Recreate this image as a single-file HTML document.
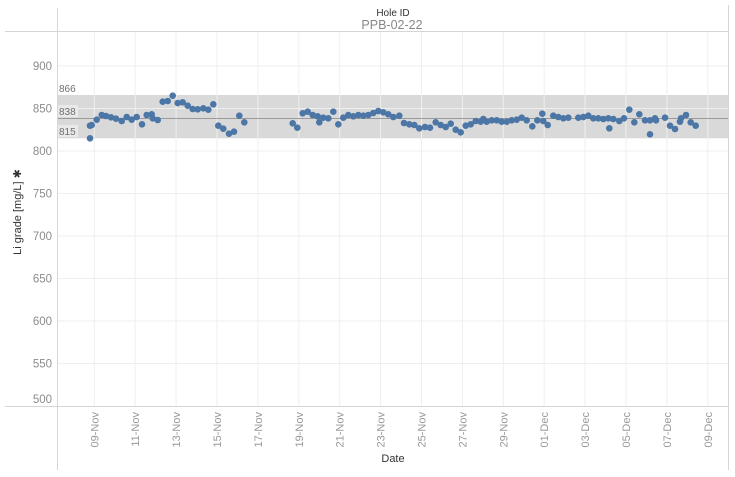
<!DOCTYPE html>
<html><head><meta charset="utf-8"><style>
html,body{margin:0;padding:0;background:#fff;}
svg{display:block;font-family:"Liberation Sans",sans-serif;}
</style></head><body>
<svg id="c" width="735" height="477" viewBox="0 0 735 477" xmlns="http://www.w3.org/2000/svg">
<rect width="735" height="477" fill="#fff"/>
<rect x="57" y="95" width="671" height="43.3" fill="#d9d9d9"/>
<g id="grid" stroke="#efefef" stroke-width="1"></g>
<line x1="57" x2="728" y1="118.5" y2="118.5" stroke="#9a9a9a" stroke-width="1"/>
<rect x="57" y="105" width="21" height="12" fill="#e9e9e9"/>
<rect x="57" y="125" width="21" height="12" fill="#e9e9e9"/>
<g font-size="10" fill="#707070">
<text x="59" y="92">866</text>
<text x="59" y="115">838</text>
<text x="59" y="135">815</text>
</g>
<g stroke="#d6d6d6" stroke-width="1">
<line x1="5" x2="728" y1="31.5" y2="31.5"/>
<line x1="5" x2="728" y1="406.5" y2="406.5"/>
<line x1="57.5" x2="57.5" y1="8" y2="470"/>
<line x1="728.5" x2="728.5" y1="5" y2="470"/>
</g>
<g font-size="11.5" fill="#8c8c8c" text-anchor="end">
<text x="52" y="70">900</text>
<text x="52" y="112.5">850</text>
<text x="52" y="155">800</text>
<text x="52" y="197.5">750</text>
<text x="52" y="240">700</text>
<text x="52" y="282.5">650</text>
<text x="52" y="325">600</text>
<text x="52" y="367.5">550</text>
<text x="52" y="403">500</text>
</g>
<g font-size="11" fill="#999" text-anchor="end">
<text transform="translate(98.3,412) rotate(-90)">09-Nov</text>
<text transform="translate(139.2,412) rotate(-90)">11-Nov</text>
<text transform="translate(180.1,412) rotate(-90)">13-Nov</text>
<text transform="translate(221,412) rotate(-90)">15-Nov</text>
<text transform="translate(261.9,412) rotate(-90)">17-Nov</text>
<text transform="translate(302.8,412) rotate(-90)">19-Nov</text>
<text transform="translate(343.7,412) rotate(-90)">21-Nov</text>
<text transform="translate(384.6,412) rotate(-90)">23-Nov</text>
<text transform="translate(425.5,412) rotate(-90)">25-Nov</text>
<text transform="translate(466.4,412) rotate(-90)">27-Nov</text>
<text transform="translate(507.3,412) rotate(-90)">29-Nov</text>
<text transform="translate(548.2,412) rotate(-90)">01-Dec</text>
<text transform="translate(589.1,412) rotate(-90)">03-Dec</text>
<text transform="translate(630,412) rotate(-90)">05-Dec</text>
<text transform="translate(670.9,412) rotate(-90)">07-Dec</text>
<text transform="translate(711.8,412) rotate(-90)">09-Dec</text>
</g>
<text x="393" y="462" font-size="11" fill="#333" text-anchor="middle">Date</text>
<text transform="translate(21,212) rotate(-90)" font-size="11" fill="#333" text-anchor="middle">Li grade [mg/L] ✱</text>
<text x="393" y="16" font-size="10" fill="#333" text-anchor="middle">Hole ID</text>
<text x="392" y="29" font-size="12.5" fill="#888" text-anchor="middle">PPB-02-22</text>
<g id="pts" fill="#4b76a6"></g>
</svg>
<script>
(function(){
var NS="http://www.w3.org/2000/svg";
var g=document.getElementById("grid");
function ln(x1,y1,x2,y2){var l=document.createElementNS(NS,"line");l.setAttribute("x1",x1);l.setAttribute("y1",y1);l.setAttribute("x2",x2);l.setAttribute("y2",y2);g.appendChild(l);}
for(var i=0;i<8;i++){var y=66+i*42.5;ln(57,y,728,y);}
for(var j=0;j<16;j++){var x=94.3+j*40.9;ln(x,31,x,406);}
var d=[90,138.3,90,125.7,91.7,125,96.7,119.7,101.7,115,106,116,111,117.3,116,118.7,121.7,121,126.7,117,131.7,119.7,136.7,117,142,124.3,146.7,115,151.7,114.3,152.7,118.3,157.7,120,162.7,101.7,167.7,101,172.7,95.7,177.7,103,182.7,102.3,187.7,105.7,192.7,109,197.7,109.3,203.3,108.3,208.3,109.7,213.3,104.3,218.3,125.7,223.3,128.7,229,133.7,234,131.7,239.3,115.7,244.3,122.3,
292.7,123.3,297.3,127.7,302.7,113.3,307.7,111.7,312.7,115,317.7,116.3,319.3,122.3,323.3,117.7,328.3,118.3,333.3,111.7,338.3,124.3,343.3,117.7,348.3,115,353.3,116.3,358.3,115,363.3,115.7,368.3,115,373.3,113,378.3,111,383.3,112.3,388.3,114.3,393.3,117,399.3,115.7,404,123,409.3,124.3,414.3,125,419.3,128.3,425,127,
430,127.7,435.7,122.3,440.7,125,445.7,127,450.7,123.7,455.7,129.7,460.7,132.3,465.7,125.7,470.7,124.3,475.7,121,480.7,121.7,483.3,119,486.7,121.7,491.7,120.3,496.7,120.3,501.7,121.7,506.7,121.7,511.7,120.3,516.7,119.7,521.7,117.7,526.7,120.3,532.3,126.3,537.3,120.3,542.3,113.7,543.3,121,547.7,125,553.3,115.7,558.3,117,563.3,118.3,568.3,117.7,
578.3,117.7,583.3,117,588.3,115.7,593.3,118.3,598.3,118.3,603.3,119,608.3,118.3,609.3,128.3,613.3,119,619.3,121,624,118.3,629.3,109.7,634.3,122.3,639.3,114.3,645,120.3,650,134.3,650,120.3,655,118.3,656,120.3,665,117.7,670,125.7,675,129,680,121.7,681,118.3,686,115,690.7,122.3,695.7,125.7];
var p=document.getElementById("pts");
for(var k=0;k<d.length;k+=2){var c=document.createElementNS(NS,"circle");c.setAttribute("cx",d[k]);c.setAttribute("cy",d[k+1]);c.setAttribute("r",3.3);p.appendChild(c);}
})();
</script>
</body></html>
